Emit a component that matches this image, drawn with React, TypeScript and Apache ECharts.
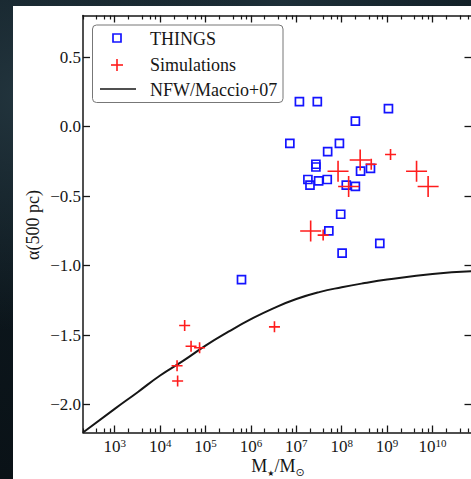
import React, { useEffect, useRef } from "react";
import * as echarts from "echarts";

// THINGS galaxies: stellar mass (Msun) and inner slope alpha(500 pc)
const thingsMass = [1.17e7, 2.9e7, 1.07e9, 2.0e8, 7.2e6, 8.9e7, 4.9e7, 2.7e7, 2.7e7, 1.8e7, 2.0e7, 3.1e7, 4.8e7, 1.26e8, 2.6e8, 4.3e8, 2.0e8, 9.5e7, 5.2e7, 6.9e8, 1.02e8, 6.2e5];
const thingsAlpha = [0.18, 0.18, 0.13, 0.04, -0.12, -0.12, -0.18, -0.27, -0.29, -0.38, -0.42, -0.39, -0.38, -0.42, -0.32, -0.30, -0.43, -0.63, -0.75, -0.84, -0.91, -1.10];

// Simulations
const simMass = [2.55e8, 4.47e8, 1.19e9, 8.3e7, 1.42e8, 4.45e9, 8.0e9, 2.07e7, 3.9e7, 3.47e4, 3.3e6, 4.8e4, 7.4e4, 2.36e4, 2.43e4];
const simAlpha = [-0.24, -0.27, -0.20, -0.32, -0.43, -0.32, -0.43, -0.75, -0.78, -1.43, -1.44, -1.58, -1.59, -1.72, -1.83];
const simKind = ["large", "small", "small", "large", "large", "large", "large", "large", "small", "small", "small", "small", "small", "small", "small"];

// NFW / Maccio+07 curve, sampled from the figure
const nfwMass = [200, 1e3, 3.2e3, 1e4, 3.2e4, 1e5, 3.2e5, 1e6, 3.2e6, 1e7, 3.2e7, 1e8, 3.2e8, 1e9, 1e10, 7.6e10];
const nfwAlpha = [-2.2, -2.03, -1.91, -1.79, -1.685, -1.575, -1.475, -1.385, -1.305, -1.24, -1.19, -1.155, -1.125, -1.1, -1.06, -1.04];

// Axis ticks
const xMajorTicks = [1e3, 1e4, 1e5, 1e6, 1e7, 1e8, 1e9, 1e10];
const xMinorMultipliers = [2, 4, 6, 8];
const xDecades = [1e2, 1e3, 1e4, 1e5, 1e6, 1e7, 1e8, 1e9, 1e10];
const yTicks = [-2.0, -1.5, -1.0, -0.5, 0.0, 0.5];

const X_MIN = 200;
const X_MAX = 7.6e10;
const Y_MIN = -2.2;
const Y_MAX = 0.8;

const FONT = "'Liberation Serif', 'Times New Roman', serif";
const INK = "#161616";
const BLUE = "#1414ff";
const RED = "#ff1c1c";

const xMinorTicks: number[] = [];
xDecades.forEach((d) => xMinorMultipliers.forEach((m) => xMinorTicks.push(d * m)));

function buildOption() {
  const axisLine = { show: true, onZero: false, lineStyle: { color: INK, width: 1.5 } };
  const baseX: any = {
    type: "log",
    logBase: 10,
    min: X_MIN,
    max: X_MAX,
    gridIndex: 0,
    splitLine: { show: false },
    minorTick: { show: false },
    minorSplitLine: { show: false },
  };
  const majorTick = { show: true, inside: true, length: 7, customValues: xMajorTicks, lineStyle: { color: INK, width: 1.3 } };
  const minorTick = { show: true, inside: true, length: 4, customValues: xMinorTicks, lineStyle: { color: INK, width: 1.2 } };

  return {
    animation: false,
    backgroundColor: "transparent",
    grid: { left: 83, top: 15.5, right: 17.5, bottom: 46.5, containLabel: false, outerBoundsMode: "none" },
    xAxis: [
      {
        ...baseX,
        position: "bottom",
        axisLine,
        axisTick: majorTick,
        axisLabel: {
          show: true,
          customValues: xMajorTicks,
          margin: 5,
          formatter: (v: number) => `{b|10}{s|${Math.round(Math.log10(v))}}`,
          rich: {
            b: { fontSize: 17, lineHeight: 17, padding: [2, 0, 0, 0], fontFamily: FONT, color: INK, verticalAlign: "bottom" },
            s: { fontSize: 11, lineHeight: 11, fontFamily: FONT, color: INK, verticalAlign: "top" },
          },
        },
      },
      { ...baseX, position: "bottom", axisLine: { show: false, onZero: false }, axisTick: minorTick, axisLabel: { show: false } },
      { ...baseX, position: "top", axisLine, axisTick: majorTick, axisLabel: { show: false } },
      { ...baseX, position: "top", axisLine: { show: false, onZero: false }, axisTick: minorTick, axisLabel: { show: false } },
    ],
    yAxis: [
      {
        type: "value",
        min: Y_MIN,
        max: Y_MAX,
        position: "left",
        axisLine,
        splitLine: { show: false },
        axisTick: { show: true, inside: true, length: 7, customValues: yTicks, lineStyle: { color: INK, width: 1.3 } },
        axisLabel: {
          show: true,
          customValues: yTicks,
          margin: 2,
          fontSize: 17,
          fontFamily: FONT,
          color: INK,
          formatter: (v: number) => v.toFixed(1).replace("-", "\u2212"),
        },
      },
      {
        type: "value",
        min: Y_MIN,
        max: Y_MAX,
        position: "right",
        axisLine,
        splitLine: { show: false },
        axisTick: { show: true, inside: true, length: 8, customValues: yTicks, lineStyle: { color: INK, width: 1.3 } },
        axisLabel: { show: false },
      },
    ],
    series: [
      {
        name: "NFW/Maccio+07",
        type: "line",
        xAxisIndex: 0,
        yAxisIndex: 0,
        smooth: 0.5,
        showSymbol: false,
        symbol: "none",
        lineStyle: { color: INK, width: 2 },
        data: nfwMass.map((m, i) => [m, nfwAlpha[i]]),
        z: 2,
      },
      {
        name: "THINGS",
        type: "scatter",
        xAxisIndex: 0,
        yAxisIndex: 0,
        symbol: "rect",
        symbolSize: 8,
        itemStyle: { color: "rgba(255,255,255,0)", borderColor: BLUE, borderWidth: 1.7, opacity: 1 },
        data: thingsMass.map((m, i) => [m, thingsAlpha[i]]),
        z: 3,
      },
      {
        name: "Simulations",
        type: "scatter",
        xAxisIndex: 0,
        yAxisIndex: 0,
        symbol: "path://M0 5H10M5 0V10",
        symbolSize: (_v: any, p: any) => (simKind[p.dataIndex] === "large" ? 21 : 11),
        itemStyle: { color: "none", borderColor: RED, borderWidth: 1.6, opacity: 1 },
        data: simMass.map((m, i) => [m, simAlpha[i]]),
        z: 4,
      },
    ],
    graphic: [
      // y axis title
      {
        type: "text",
        x: 33,
        y: 225,
        rotation: Math.PI / 2,
        style: { text: "\u03b1(500 pc)", fontSize: 18, fontFamily: FONT, fill: INK, align: "center", verticalAlign: "middle" },
      },
      // x axis title
      {
        type: "text",
        x: 278,
        y: 457,
        style: {
          text: "{m|M}{sub|\u2605}{m|/M}{sun|\u2299}",
          align: "center",
          verticalAlign: "top",
          fill: INK,
          rich: {
            m: { fontSize: 18, lineHeight: 18, fontFamily: FONT, fill: INK, verticalAlign: "top" },
            sub: { fontSize: 8, lineHeight: 8, padding: [12, 0, 0, 0], fontFamily: "'DejaVu Sans', sans-serif", fill: INK, verticalAlign: "top" },
            sun: { fontSize: 11, lineHeight: 11, padding: [10, 0, 0, 0], fontFamily: "'DejaVu Sans', sans-serif", fill: INK, verticalAlign: "top" },
          },
        },
      },
      // legend
      {
        type: "group",
        z: 100,
        children: [
          {
            type: "rect",
            shape: { x: 92.5, y: 25, width: 190.5, height: 77.5, r: 4 },
            style: { fill: "#fff", stroke: "#777", lineWidth: 1 },
          },
          {
            type: "rect",
            shape: { x: 113, y: 34, width: 8, height: 8 },
            style: { fill: "none", stroke: BLUE, lineWidth: 1.7 },
          },
          {
            type: "line",
            shape: { x1: 111, y1: 65, x2: 123, y2: 65 },
            style: { stroke: RED, lineWidth: 1.6 },
          },
          {
            type: "line",
            shape: { x1: 117, y1: 59, x2: 117, y2: 71 },
            style: { stroke: RED, lineWidth: 1.6 },
          },
          {
            type: "line",
            shape: { x1: 100, y1: 89, x2: 136, y2: 89 },
            style: { stroke: INK, lineWidth: 1.6 },
          },
          {
            type: "text",
            x: 150,
            y: 39,
            style: { text: "THINGS", fontSize: 18, fontFamily: FONT, fill: INK, align: "left", verticalAlign: "middle" },
          },
          {
            type: "text",
            x: 150,
            y: 65,
            style: { text: "Simulations", fontSize: 18, fontFamily: FONT, fill: INK, align: "left", verticalAlign: "middle" },
          },
          {
            type: "text",
            x: 150,
            y: 90,
            style: { text: "NFW/Maccio+07", fontSize: 18, fontFamily: FONT, fill: INK, align: "left", verticalAlign: "middle" },
          },
        ],
      },
    ],
  };
}

export default function App() {
  const ref = useRef<HTMLDivElement>(null);
  useEffect(() => {
    if (!ref.current) return;
    const chart = echarts.init(ref.current, null, { renderer: "svg" });
    chart.setOption(buildOption() as any);
    return () => chart.dispose();
  }, []);
  return (
    <div
      style={{
        position: "fixed",
        left: 0,
        top: 0,
        width: 471,
        height: 479,
        overflow: "hidden",
        background:
          "radial-gradient(circle at 5% 20%, #22343d 0%, rgba(0,0,0,0) 40%), radial-gradient(circle at 60% 0%, #1d2f38 0%, rgba(0,0,0,0) 45%), linear-gradient(180deg, #0f1c23 0%, #0a1217 100%)",
      }}
    >
      <div style={{ position: "absolute", left: 13, top: 6, right: 0, bottom: 0, background: "#ffffff" }} />
      <div ref={ref} style={{ position: "absolute", left: 0, top: 0, width: 490, height: 479 }} />
    </div>
  );
}
